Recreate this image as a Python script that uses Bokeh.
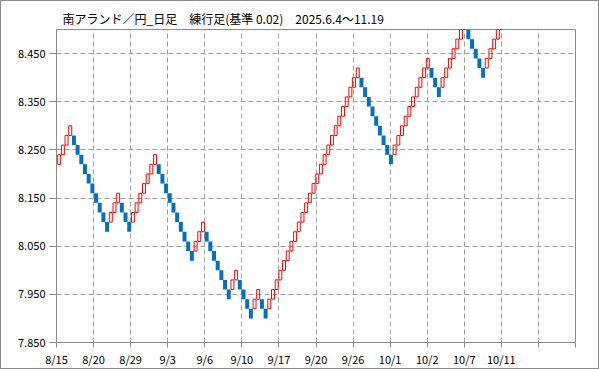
from bokeh.plotting import figure
from bokeh.models import Range1d, FixedTicker, ColumnDataSource
from bokeh.embed import file_html
from bokeh.resources import INLINE
import numpy as np

# Renko bricks (brick size 0.02), in chronological order
brick_open = [
    8.22, 8.24, 8.26, 8.28,
    8.28, 8.26, 8.24, 8.22, 8.20, 8.18, 8.16, 8.14, 8.12, 8.10,
    8.10, 8.12, 8.14,
    8.14, 8.12, 8.10,
    8.10, 8.12, 8.14, 8.16, 8.18, 8.20, 8.22,
    8.22, 8.20, 8.18, 8.16, 8.14, 8.12, 8.10, 8.08, 8.06, 8.04,
    8.04, 8.06, 8.08,
    8.08, 8.06, 8.04, 8.02, 8.00, 7.98, 7.96,
    7.96, 7.98,
    7.98, 7.96, 7.94, 7.92,
    7.92, 7.94,
    7.94, 7.92,
    7.92, 7.94, 7.96, 7.98, 8.00, 8.02, 8.04, 8.06, 8.08, 8.10, 8.12, 8.14, 8.16,
    8.18, 8.20, 8.22, 8.24, 8.26, 8.28, 8.30, 8.32, 8.34, 8.36, 8.38, 8.40,
    8.40, 8.38, 8.36, 8.34, 8.32, 8.30, 8.28, 8.26, 8.24,
    8.24, 8.26, 8.28, 8.30, 8.32, 8.34, 8.36, 8.38, 8.40, 8.42,
    8.42, 8.40, 8.38,
    8.38, 8.40, 8.42, 8.44, 8.46, 8.48, 8.50,
    8.50, 8.48, 8.46, 8.44, 8.42,
    8.42, 8.44, 8.46, 8.48, 8.50,
]
brick_close = [
    8.24, 8.26, 8.28, 8.30,
    8.26, 8.24, 8.22, 8.20, 8.18, 8.16, 8.14, 8.12, 8.10, 8.08,
    8.12, 8.14, 8.16,
    8.12, 8.10, 8.08,
    8.12, 8.14, 8.16, 8.18, 8.20, 8.22, 8.24,
    8.20, 8.18, 8.16, 8.14, 8.12, 8.10, 8.08, 8.06, 8.04, 8.02,
    8.06, 8.08, 8.10,
    8.06, 8.04, 8.02, 8.00, 7.98, 7.96, 7.94,
    7.98, 8.00,
    7.96, 7.94, 7.92, 7.90,
    7.94, 7.96,
    7.92, 7.90,
    7.94, 7.96, 7.98, 8.00, 8.02, 8.04, 8.06, 8.08, 8.10, 8.12, 8.14, 8.16, 8.18,
    8.20, 8.22, 8.24, 8.26, 8.28, 8.30, 8.32, 8.34, 8.36, 8.38, 8.40, 8.42,
    8.38, 8.36, 8.34, 8.32, 8.30, 8.28, 8.26, 8.24, 8.22,
    8.26, 8.28, 8.30, 8.32, 8.34, 8.36, 8.38, 8.40, 8.42, 8.44,
    8.40, 8.38, 8.36,
    8.40, 8.42, 8.44, 8.46, 8.48, 8.50, 8.52,
    8.48, 8.46, 8.44, 8.42, 8.40,
    8.44, 8.46, 8.48, 8.50, 8.52,
]
date_labels = ["8/15", "8/20", "8/29", "9/3", "9/6", "9/10", "9/17", "9/20",
               "9/26", "10/1", "10/2", "10/7", "10/11", "", ""]
y_ticks = [7.85, 7.95, 8.05, 8.15, 8.25, 8.35, 8.45]
title_text = "南アランド／円_日足　練行足(基準 0.02)　2025.6.4〜11.19"

idx = np.arange(len(brick_open))
o = np.array(brick_open)
c = np.array(brick_close)
up = c > o
src_up = ColumnDataSource(dict(x=idx[up], top=c[up], bottom=o[up]))
src_dn = ColumnDataSource(dict(x=idx[~up], top=o[~up], bottom=c[~up]))

x0, x1 = -0.73, 140.07
p = figure(width=599, height=369, output_backend="svg", toolbar_location=None,
           x_range=Range1d(x0, x1), y_range=Range1d(7.85, 8.50),
           min_border_left=56, min_border_right=24, min_border_top=29,
           min_border_bottom=27)

p.title.text = title_text
p.title.text_font = "Noto Sans CJK JP"
p.title.text_font_size = "12px"
p.title.text_font_style = "normal"
p.title.text_color = "#000000"
p.title.align = "left"
p.title.offset = 6
p.title.standoff = 5

p.vbar(x="x", top="top", bottom="bottom", width=1.08, source=src_dn,
       fill_color="#0070C0", line_color=None)
p.vbar(x="x", top="top", bottom="bottom", width=0.8, source=src_up,
       fill_color=None, line_color="#FF0000", line_width=1)

xt = list(np.linspace(x0, x1, len(date_labels)))
p.xaxis.ticker = FixedTicker(ticks=xt)
p.xaxis.major_label_overrides = {t: lab for t, lab in zip(xt, date_labels)}
p.yaxis.ticker = FixedTicker(ticks=y_ticks)
p.yaxis.major_label_overrides = {t: f"{t:.3f}" for t in y_ticks}

for ax in (p.xaxis[0], p.yaxis[0]):
    ax.axis_line_color = "#8c8c8c"
    ax.major_tick_line_color = "#8c8c8c"
    ax.minor_tick_line_color = None
    ax.major_tick_in = 0
    ax.major_label_text_font = "Noto Sans CJK JP"
    ax.major_label_text_font_size = "11px"
    ax.major_label_text_color = "#000000"
p.xaxis.major_tick_out = 5
p.xaxis.major_label_standoff = 3
p.yaxis.major_tick_out = 7
p.yaxis.major_label_standoff = 4

for g in (p.xgrid[0], p.ygrid[0]):
    g.grid_line_color = "#a0a0a0"
    g.grid_line_dash = "5 3"
    g.grid_line_width = 1
p.outline_line_color = "#8c8c8c"
p.outline_line_width = 1
p.background_fill_color = "white"
p.border_fill_color = "white"

html = file_html(p, INLINE)
frame_css = ("<style>html,body{margin:0;padding:0;}"
             "body::after{content:'';position:fixed;left:0;top:0;width:599px;"
             "height:369px;box-sizing:border-box;border:1px solid #8c8c8c;"
             "pointer-events:none;}</style>")
html = html.replace("</head>", frame_css + "</head>", 1)
open("out.html", "w").write(html)
